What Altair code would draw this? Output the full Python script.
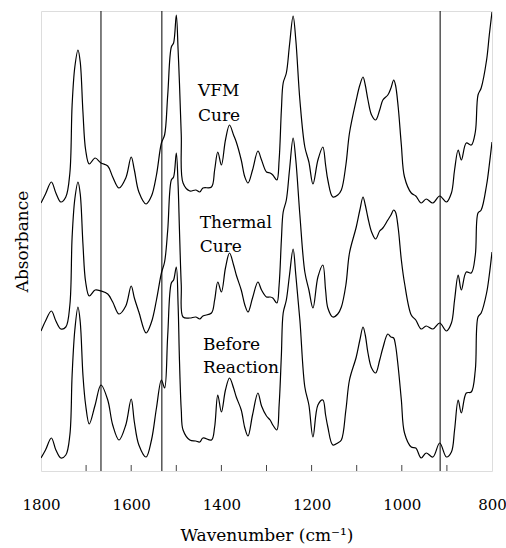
import altair as alt
import pandas as pd

# Shared wavenumber grid (cm-1)
wn = [1800, 1790, 1777, 1767, 1756, 1745, 1736, 1731, 1725, 1718, 1713, 1707, 1701, 1693, 1680,
      1667, 1652, 1641, 1627, 1612, 1600, 1593, 1583, 1567, 1555, 1544, 1533, 1526, 1519, 1511,
      1506, 1500, 1496, 1493, 1489, 1485, 1470, 1457, 1448, 1441, 1422, 1415, 1408, 1400, 1391,
      1382, 1373, 1367, 1356, 1348, 1341, 1331, 1319, 1311, 1300, 1292, 1286, 1277, 1272, 1267,
      1263, 1256, 1249, 1241, 1235, 1226, 1215, 1206, 1197, 1186, 1175, 1169, 1164, 1153, 1142,
      1134, 1124, 1116, 1101, 1093, 1086, 1081, 1075, 1067, 1058, 1049, 1042, 1031, 1024, 1018,
      1014, 1008, 1001, 994, 979, 969, 957, 946, 931, 916, 901, 890, 883, 875, 868,
      857, 846, 837, 831, 824, 812, 806, 800]

# Absorbance (arbitrary units, traces stacked as in the figure)
vfm = [2.68, 2.77, 2.89, 2.78, 2.69, 2.74, 2.98, 3.66, 4.04, 4.21, 4.09, 3.59, 3.21, 3.07, 3.13,
       3.08, 3.05, 2.94, 2.83, 2.93, 3.14, 3.01, 2.79, 2.67, 2.75, 2.96, 3.28, 3.36, 3.76, 4.24,
       4.28, 4.56, 4.21, 3.88, 3.36, 2.88, 2.80, 2.81, 2.79, 2.83, 2.84, 3.01, 3.19, 3.06, 3.31,
       3.46, 3.36, 3.29, 3.11, 2.94, 2.88, 3.01, 3.20, 3.11, 2.99, 2.98, 2.96, 2.91, 3.11, 3.61,
       3.88, 3.98, 4.26, 4.55, 4.31, 3.71, 3.24, 3.09, 2.87, 3.11, 3.24, 3.06, 2.91, 2.74, 2.76,
       2.81, 3.06, 3.38, 3.71, 3.86, 3.94, 3.86, 3.71, 3.56, 3.51, 3.61, 3.71, 3.76, 3.83, 3.91,
       3.86, 3.64, 3.26, 2.94, 2.78, 2.75, 2.68, 2.72, 2.68, 2.75, 2.69, 2.78, 3.01, 3.21, 3.11,
       3.28, 3.26, 3.39, 3.76, 3.83, 4.11, 4.36, 4.59]

thermal = [1.40, 1.50, 1.60, 1.50, 1.42, 1.44, 1.66, 2.34, 2.72, 2.89, 2.77, 2.27, 1.89, 1.75, 1.81,
           1.80, 1.77, 1.69, 1.57, 1.65, 1.85, 1.73, 1.59, 1.38, 1.49, 1.71, 1.98, 2.09, 2.41, 2.91,
           2.94, 3.18, 2.86, 2.41, 1.86, 1.54, 1.53, 1.54, 1.52, 1.55, 1.58, 1.71, 1.89, 1.79, 2.03,
           2.18, 2.06, 1.96, 1.81, 1.66, 1.59, 1.73, 1.89, 1.81, 1.74, 1.74, 1.73, 1.68, 1.86, 2.31,
           2.59, 2.71, 3.01, 3.33, 3.11, 2.56, 1.99, 1.81, 1.63, 1.94, 2.06, 1.81, 1.63, 1.54, 1.57,
           1.64, 1.86, 2.18, 2.44, 2.61, 2.74, 2.66, 2.53, 2.39, 2.32, 2.40, 2.43, 2.51, 2.56, 2.61,
           2.59, 2.43, 2.11, 1.88, 1.56, 1.51, 1.42, 1.45, 1.42, 1.48, 1.40, 1.48, 1.71, 1.96, 1.81,
           1.99, 1.98, 2.16, 2.58, 2.61, 2.86, 3.06, 3.29]

before = [0.13, 0.21, 0.33, 0.21, 0.13, 0.16, 0.36, 0.96, 1.41, 1.64, 1.49, 0.96, 0.66, 0.47, 0.66,
          0.86, 0.71, 0.46, 0.31, 0.46, 0.72, 0.49, 0.26, 0.14, 0.31, 0.63, 0.91, 0.83, 1.36, 1.88,
          1.91, 2.04, 1.66, 1.11, 0.61, 0.41, 0.31, 0.30, 0.29, 0.33, 0.31, 0.44, 0.76, 0.59, 0.81,
          0.93, 0.83, 0.74, 0.61, 0.43, 0.35, 0.56, 0.78, 0.65, 0.55, 0.51, 0.46, 0.41, 0.66, 1.16,
          1.58, 1.71, 1.96, 2.22, 1.96, 1.51, 0.84, 0.66, 0.34, 0.66, 0.71, 0.56, 0.44, 0.26, 0.28,
          0.31, 0.61, 0.91, 1.14, 1.31, 1.44, 1.36, 1.18, 1.03, 0.98, 1.11, 1.23, 1.37, 1.34, 1.33,
          1.26, 1.04, 0.71, 0.38, 0.24, 0.23, 0.13, 0.18, 0.14, 0.28, 0.14, 0.19, 0.41, 0.71, 0.58,
          0.78, 0.79, 1.01, 1.54, 1.58, 1.78, 1.96, 2.19]

series_names = ["VFM Cure", "Thermal Cure", "Before Reaction"]

# Marker lines (cm-1)
marker_wn = [1667, 1532, 915]

# Axis ticks and labels
tick_wn = [1700, 1600, 1500, 1400, 1300, 1200, 1100, 1000, 900]
label_wn = [1800, 1600, 1400, 1200, 1000, 800]

# In-plot annotations
note_text = ["VFM", "Cure", "Thermal", "Cure", "Before", "Reaction"]
note_wn = [1452, 1452, 1448, 1448, 1441, 1441]
note_abs = [3.75, 3.50, 2.43, 2.19, 1.21, 0.98]

assert len(wn) == len(vfm) == len(thermal) == len(before)

rows = []
for name, vals in zip(series_names, [vfm, thermal, before]):
    for w, a in zip(wn, vals):
        rows.append({"series": name, "wn": w, "abs": a})
spec = pd.DataFrame(rows)

FONT = "DejaVu Serif"

xscale = alt.Scale(domain=[800, 1800], reverse=True, nice=False, zero=False)
yscale = alt.Scale(domain=[0, 4.6], nice=False, zero=False)

lines = alt.Chart(spec).mark_line(color="black", strokeWidth=1.2, interpolate="catmull-rom", clip=True).encode(
    x=alt.X("wn:Q", scale=xscale,
            axis=alt.Axis(values=label_wn, format="d", title="Wavenumber (cm⁻¹)", ticks=False, tickSize=0,
                          domain=False, grid=False, labelFont=FONT, labelFontSize=15,
                          labelColor="black", labelBaseline="alphabetic", labelPadding=38,
                          labelFlush=False,
                          titleFont=FONT, titleFontSize=17, titleFontWeight="normal",
                          titleColor="black", titleBaseline="alphabetic", titleY=69)),
    y=alt.Y("abs:Q", scale=yscale,
            axis=alt.Axis(title="Absorbance", labels=False, ticks=False, domain=False, grid=False,
                          titleFont=FONT, titleFontSize=17, titleFontWeight="normal",
                          titleColor="black", titleBaseline="middle", titleX=-19)),
    detail="series:N",
)

markers = alt.Chart(pd.DataFrame({"wn": marker_wn})).mark_rule(color="black", strokeWidth=1).encode(
    x=alt.X("wn:Q", scale=xscale),
    y=alt.value(0),
    y2=alt.value(460),
)

ticks = alt.Chart(pd.DataFrame({"wn": tick_wn})).mark_rule(color="#444", strokeWidth=1).encode(
    x=alt.X("wn:Q", scale=xscale),
    y=alt.value(454),
    y2=alt.value(460),
)

notes = alt.Chart(pd.DataFrame({"t": note_text, "wn": note_wn, "abs": note_abs})).mark_text(
    align="left", baseline="alphabetic", font=FONT, fontSize=17, color="black"
).encode(
    x=alt.X("wn:Q", scale=xscale),
    y=alt.Y("abs:Q", scale=yscale),
    text="t:N",
)

chart = alt.layer(lines, markers, ticks, notes).properties(
    width=451, height=460,
    autosize=alt.AutoSizeParams(type="none"),
    padding={"left": 41, "top": 11, "right": 14, "bottom": 77},
).configure_view(stroke="#333", strokeWidth=1.2).configure(background="white")

chart.save("out.html", embed_options={"renderer": "svg", "actions": False})
